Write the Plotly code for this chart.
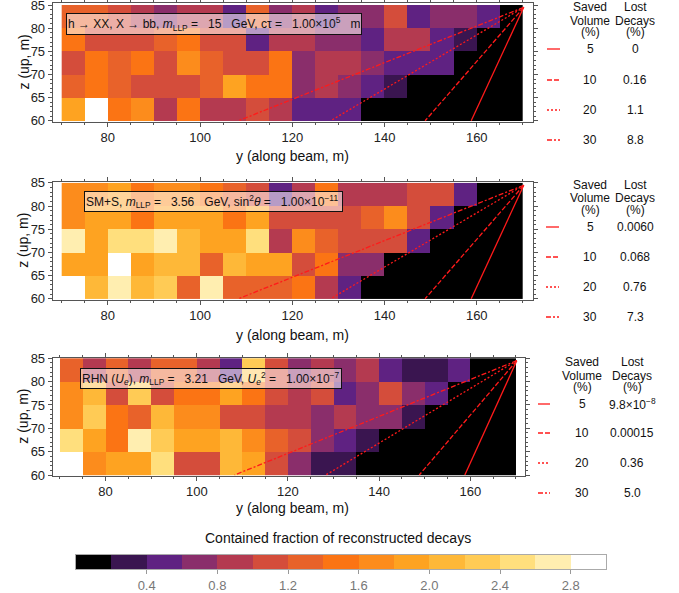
import plotly.graph_objects as go

W, H = 679, 593
FONT = "Liberation Sans, Arial, sans-serif"

# ---- binning of the detector volume (metres) ----
y_centers = [72.5, 77.5, 82.5, 87.5, 92.5, 97.5, 102.5, 107.5, 112.5, 117.5,
             122.5, 127.5, 132.5, 137.5, 142.5, 147.5, 152.5, 157.5, 162.5, 167.5]
z_centers = [82.5, 77.5, 72.5, 67.5, 62.5]   # rows listed from top to bottom

# ---- contained fraction of reconstructed decays, rows top -> bottom ----
hxx_z825 = [1.3, 1.3, 1.1, 0.9, 0.7, 0.9, 0.9, 0.5, 1.3, 0.7, 0.9, 0.5, 0.7, 0.7, 1.1, 0.5, 0.7, 0.7, 0.5, 0.1]
hxx_z775 = [1.5, 1.1, 1.1, 1.1, 1.3, 1.5, 1.1, 1.1, 0.5, 0.9, 0.9, 0.7, 0.7, 0.5, 0.9, 0.9, 0.5, 0.3, 0.1, 0.1]
hxx_z725 = [1.1, 1.5, 1.3, 1.5, 1.1, 1.7, 1.3, 1.1, 1.1, 1.5, 0.7, 0.9, 0.9, 0.7, 0.5, 0.5, 0.5, 0.1, 0.1, 0.1]
hxx_z675 = [1.3, 1.5, 1.3, 1.1, 1.1, 1.1, 1.3, 1.9, 1.5, 1.5, 0.7, 0.9, 0.7, 0.5, 0.3, 0.1, 0.1, 0.1, 0.1, 0.1]
hxx_z625 = [1.9, 2.9, 1.5, 1.7, 0.9, 1.5, 0.9, 0.9, 1.1, 0.9, 0.5, 0.5, 0.5, 0.1, 0.1, 0.1, 0.1, 0.1, 0.1, 0.1]

sms_z825 = [1.7, 1.7, 1.9, 1.5, 1.7, 1.7, 1.5, 1.3, 1.1, 0.5, 0.9, 1.5, 0.9, 0.9, 0.9, 1.1, 1.1, 0.5, 0.1, 0.1]
sms_z775 = [1.7, 1.9, 1.9, 1.5, 1.9, 1.9, 1.9, 1.5, 1.9, 1.1, 1.1, 1.1, 1.1, 1.3, 1.7, 1.1, 0.5, 0.1, 0.1, 0.1]
sms_z725 = [2.7, 1.9, 2.5, 2.5, 2.7, 2.1, 1.9, 1.9, 2.5, 0.9, 1.7, 1.3, 1.1, 1.1, 1.1, 0.5, 0.1, 0.1, 0.1, 0.1]
sms_z675 = [1.9, 1.9, 2.9, 1.9, 2.1, 2.1, 1.3, 2.1, 1.9, 1.9, 1.1, 1.5, 0.7, 0.7, 0.1, 0.1, 0.1, 0.1, 0.1, 0.1]
sms_z625 = [2.9, 2.1, 2.7, 2.1, 2.3, 1.3, 2.7, 1.3, 1.3, 1.3, 1.5, 0.9, 0.5, 0.1, 0.1, 0.1, 0.1, 0.1, 0.1, 0.1]

rhn_z825 = [1.3, 0.9, 1.3, 0.9, 1.3, 1.3, 0.9, 0.5, 2.3, 1.1, 0.7, 0.9, 0.7, 0.9, 0.5, 0.3, 0.3, 0.5, 0.1, 0.1]
rhn_z775 = [1.7, 2.1, 1.1, 2.3, 1.1, 1.5, 1.5, 1.9, 1.5, 1.1, 0.9, 1.1, 0.5, 0.7, 1.1, 0.7, 0.5, 0.1, 0.1, 0.1]
rhn_z725 = [1.7, 2.3, 1.5, 1.3, 2.1, 1.7, 1.7, 1.1, 1.1, 0.9, 0.9, 0.7, 0.9, 0.7, 0.7, 0.3, 0.1, 0.1, 0.1, 0.1]
rhn_z675 = [2.5, 1.9, 1.5, 2.7, 2.3, 1.9, 1.9, 2.1, 1.7, 1.3, 1.1, 0.7, 0.5, 0.3, 0.1, 0.1, 0.1, 0.1, 0.1, 0.1]
rhn_z625 = [2.9, 1.7, 1.9, 1.9, 2.5, 1.1, 1.1, 2.1, 1.9, 1.1, 0.7, 0.3, 0.3, 0.1, 0.1, 0.1, 0.1, 0.1, 0.1, 0.1]

# ---- cut lines: common apex and the y where each line meets z = 60 m ----
saved_volume = ["5", "10", "20", "30"]
cut_dash = ["solid", "5px,2px", "2px,2px", "5px,2px,2px,2px"]
cut_apex = (170.2, 84.5)
cut_bottom_y = [158.8, 148.8, 128.3, 108.3]

lost_hxx = ["0", "0.16", "1.1", "8.8"]
lost_sms = ["0.0060", "0.068", "0.76", "7.3"]
lost_rhn = ["9.8\u00d710<sup>\u22128</sup>", "0.00015", "0.36", "5.0"]

# ---- discrete colour map (15 bins on 0..3) ----
bin_colors = ["#000000", "#3a1550", "#5f2282", "#8a2e6b", "#b43a50", "#d44d3b",
              "#e8622a", "#fb7414", "#fc8c1c", "#fea321", "#feb838", "#ffcb55",
              "#ffdf7d", "#ffeeb0", "#ffffff"]
cbar_ticks = [0.4, 0.8, 1.2, 1.6, 2.0, 2.4, 2.8]
cbar_centers = [0.1, 0.3, 0.5, 0.7, 0.9, 1.1, 1.3, 1.5, 1.7, 1.9, 2.1, 2.3, 2.5, 2.7, 2.9]

nb = len(bin_colors)
colorscale = []
for i, c in enumerate(bin_colors):
    colorscale.append([i / nb, c])
    colorscale.append([(i + 1) / nb, c])

sp = "\u00a0"
labels = [
    f"h \u2192 XX, X \u2192 bb, <i>m</i><sub>LLP</sub> ={sp*3}15{sp*3}GeV, c\u03c4 ={sp*3}1.00\u00d710<sup>5</sup>{sp*3}m",
    f"SM+S, <i>m</i><sub>LLP</sub> ={sp*3}3.56{sp*3}GeV, sin<sup>2</sup><i>\u03b8</i> ={sp*3}1.00\u00d710<sup>\u221211</sup>",
    f"RHN (<i>U<sub>e</sub></i>), <i>m</i><sub>LLP</sub> ={sp*3}3.21{sp*3}GeV, <i>U<sub>e</sub></i><sup>2</sup> ={sp*3}1.00\u00d710<sup>\u22127</sup>",
]

panels = [
    dict(rows=[hxx_z825, hxx_z775, hxx_z725, hxx_z675, hxx_z625], lost=lost_hxx,
         px=(52.7, 533), py=(3.3, 121.7), xr=[68.05, 172.2], yr=[59.8, 85.37],
         box=(66, 13, 362, 35), title_y=156,
         tcols=(590, 635), thead=(7, 21, 32), trows=(49, 80, 110, 140), sample=(547, 560)),
    dict(rows=[sms_z825, sms_z775, sms_z725, sms_z675, sms_z625], lost=lost_sms,
         px=(52.7, 533), py=(182, 299.7), xr=[68.05, 172.2], yr=[59.8, 85.2],
         box=(84, 191, 343, 212), title_y=335,
         tcols=(590, 635), thead=(185, 198, 210), trows=(227, 257, 287, 317), sample=(546, 559)),
    dict(rows=[rhn_z825, rhn_z775, rhn_z725, rhn_z675, rhn_z625], lost=lost_rhn,
         px=(52.7, 525), py=(357.7, 475.7), xr=[68.4, 172.0], yr=[59.85, 85.13],
         box=(80, 368, 342, 389), title_y=508,
         tcols=(582, 632), thead=(362, 376, 387), trows=(404, 433, 463, 493), sample=(538, 550)),
]


def fx(p):
    return p / W


def fy(p):
    return 1 - p / H


def label(text, x, y, size=12, color="#111", **kw):
    d = dict(text=text, xref="paper", yref="paper", x=fx(x), y=fy(y),
             xanchor="center", yanchor="middle", showarrow=False,
             font=dict(family=FONT, size=size, color=color))
    d.update(kw)
    return d


fig = go.Figure()
annotations = []
shapes = []
layout_axes = {}

for k, P in enumerate(panels, start=1):
    xa, ya = f"x{k}", f"y{k}"
    fig.add_trace(go.Heatmap(
        x=y_centers, y=z_centers[::-1], z=P["rows"][::-1],
        colorscale=colorscale, zmin=0, zmax=3, showscale=False,
        xaxis=xa, yaxis=ya, hoverinfo="skip"))
    for yb, dash in zip(cut_bottom_y, cut_dash):
        fig.add_trace(go.Scatter(
            x=[cut_apex[0], yb], y=[cut_apex[1], 60], mode="lines",
            line=dict(color="#ff1a1a", width=1.3, dash=dash),
            xaxis=xa, yaxis=ya, showlegend=False, hoverinfo="skip"))

    axis_common = dict(showline=True, linecolor="#555", linewidth=1, mirror="allticks",
                       ticks="outside", tickcolor="#555", ticklen=4, showgrid=False,
                       zeroline=False, automargin=False, ticklabeloverflow="allow",
                       tickfont=dict(family=FONT, size=13, color="#222"))
    layout_axes[f"xaxis{k}"] = dict(
        axis_common, domain=[fx(P["px"][0]), fx(P["px"][1])], range=P["xr"],
        tickvals=[80, 100, 120, 140, 160], anchor=ya,
        minor=dict(dtick=5, tick0=70, ticks="outside", ticklen=2, tickcolor="#555"))
    layout_axes[f"yaxis{k}"] = dict(
        axis_common, domain=[fy(P["py"][1]), fy(P["py"][0])], range=P["yr"],
        tickvals=[60, 65, 70, 75, 80, 85], anchor=xa,
        minor=dict(dtick=1, tick0=60, ticks="outside", ticklen=2, tickcolor="#555"))

    # axis titles
    annotations.append(label("y (along beam, m)", (P["px"][0] + 533) / 2, P["title_y"], size=14))
    annotations.append(label("z (up, m)", 23, (P["py"][0] + P["py"][1]) / 2, size=14,
                             textangle=-90))

    # model label box
    bx0, by0, bx1, by1 = P["box"]
    annotations.append(dict(text=labels[k - 1], xref="paper", yref="paper",
                            x=fx(bx0), y=fy(by0), xanchor="left", yanchor="top",
                            width=bx1 - bx0 - 4, height=by1 - by0 - 4, align="left",
                            valign="middle", showarrow=False, borderpad=1,
                            bgcolor="rgba(255,255,255,0.55)", bordercolor="#111", borderwidth=1,
                            font=dict(family=FONT, size=12, color="#111")))

    # table of saved volume / lost decays
    c1, c2 = P["tcols"]
    for txt, yy in zip(["Saved", "Volume", "(%)"], P["thead"]):
        annotations.append(label(txt, c1, yy))
    for txt, yy in zip(["Lost", "Decays", "(%)"], P["thead"]):
        annotations.append(label(txt, c2, yy))
    for sv, lv, yy, dash in zip(saved_volume, P["lost"], P["trows"], cut_dash):
        annotations.append(label(sv, c1, yy))
        annotations.append(label(lv, c2, yy))
        shapes.append(dict(type="line", xref="paper", yref="paper",
                           x0=fx(P["sample"][0]), x1=fx(P["sample"][1]), y0=fy(yy), y1=fy(yy),
                           line=dict(color="#ff1a1a", width=1.3, dash=dash)))

# ---- colour bar drawn as a one-row heatmap on its own axes ----
fig.add_trace(go.Heatmap(x=cbar_centers, y=[0], z=[cbar_centers], colorscale=colorscale,
                         zmin=0, zmax=3, showscale=False, xaxis="x4", yaxis="y4",
                         hoverinfo="skip"))
layout_axes["xaxis4"] = dict(domain=[fx(76), fx(606)], range=[0, 3], anchor="y4",
                             tickvals=cbar_ticks, ticktext=[f"{t:.1f}" for t in cbar_ticks],
                             ticks="outside", ticklen=4, tickcolor="#999",
                             showline=True, linecolor="#aaa", linewidth=1, mirror=True,
                             showgrid=False, zeroline=False, automargin=False,
                             ticklabeloverflow="allow",
                             tickfont=dict(family=FONT, size=13, color="#777"))
layout_axes["yaxis4"] = dict(domain=[fy(569), fy(555)], range=[-0.5, 0.5], anchor="x4",
                             showticklabels=False, ticks="", showgrid=False, zeroline=False,
                             showline=True, linecolor="#aaa", linewidth=1, mirror=True,
                             automargin=False)
annotations.append(label("Contained fraction of reconstructed decays", 338, 538, size=14))

fig.update_layout(
    width=W, height=H, margin=dict(l=0, r=0, t=0, b=0, autoexpand=False),
    paper_bgcolor="white", plot_bgcolor="white", showlegend=False,
    annotations=annotations, shapes=shapes, **layout_axes)

fig.write_html("out.html")
